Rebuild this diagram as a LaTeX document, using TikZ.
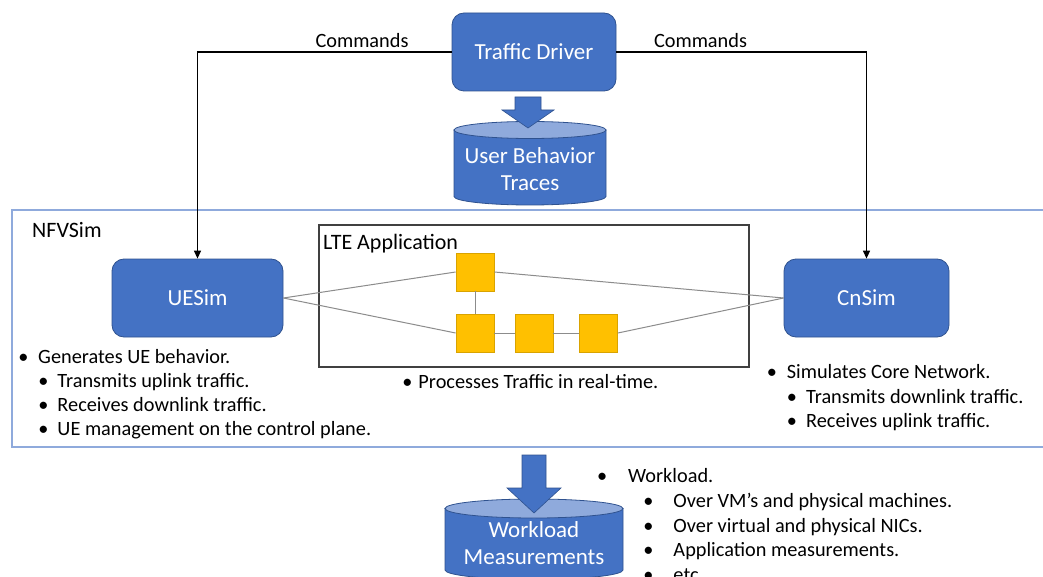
\documentclass[tikz,border=0pt]{standalone}
\usepackage{fontspec}
\setmainfont{Carlito}
\usetikzlibrary{arrows.meta}

\definecolor{boxblue}{HTML}{4472C4}
\definecolor{boxedge}{HTML}{2F528F}
\definecolor{lightblue}{HTML}{8FAADC}
\definecolor{vnfyellow}{HTML}{FFC000}
\definecolor{vnfedge}{HTML}{D9A300}
\definecolor{linkgray}{HTML}{8C8C8C}
\definecolor{framegray}{HTML}{404040}

% bullet centred #1 to the left of the text start
\newcommand{\bpt}[2]{\llap{\makebox[0pt]{\textbullet}\hspace{#1}}#2}

\begin{document}
\begin{tikzpicture}[x=1pt,y=-1pt,
  bluebox/.style={draw=boxedge, line width=0.8pt, fill=boxblue, rounded corners=12pt,
    text=white, inner sep=0pt, font=\fontsize{23}{27}\selectfont},
  vnf/.style={draw=vnfedge, fill=vnfyellow, line width=0.8pt, minimum size=38pt, inner sep=0pt},
  link/.style={draw=linkgray, line width=1pt},
  cmdline/.style={draw=black, line width=1.3pt, -{Triangle[length=8pt,width=7pt]}},
  cmdlabel/.style={anchor=base, inner sep=0pt, font=\fontsize{20.3}{24}\selectfont},
  txt/.style={anchor=base west, inner sep=0pt, font=\fontsize{20.3}{24}\selectfont},
  title/.style={anchor=base west, inner sep=0pt, font=\fontsize{22}{26}\selectfont},
  cyltext/.style={text=white, align=center, inner sep=0pt, font=\fontsize{23}{27}\selectfont},
  cylbody/.style={fill=boxblue, draw=boxedge, line width=0.8pt},
  cyltop/.style={fill=lightblue, draw=boxedge, line width=0.8pt},
  blockarrow/.style={fill=boxblue, draw=boxedge, line width=0.6pt, line join=miter}
]
\useasboundingbox (0,0) rectangle (1043,577);
\fill[white] (0,0) rectangle (1043,577);

% ---------------- NFVSim frame ----------------
\draw[lightblue, line width=1.5pt] (1050,210) -- (12,210) -- (12,447) -- (1050,447);
\node[title] (nfv) at (32,237) {NFVSim};

% ---------------- Traffic driver and traces ----------------
\node[bluebox, minimum width=164pt, minimum height=78pt] (td) at (534,52) {Traffic Driver};

% User behaviour traces (cylinder)
\path[cylbody] (454,130) -- (454,196.5)
  arc[start angle=180, end angle=360, x radius=76pt, y radius=8.5pt] -- (606,130) -- cycle;
\path[cyltop] (530,130) ellipse[x radius=76pt, y radius=8.5pt];
\node[cyltext] (ubt) at (530,169) {User Behavior\\Traces};

\path[blockarrow] (515,97) -- (541,97) -- (541,110) -- (554,110) -- (528,128)
  -- (502,110) -- (515,110) -- cycle;

% ---------------- Simulators ----------------
\node[bluebox, minimum width=171pt, minimum height=78pt] (ue) at (197.5,298) {UESim};
\node[bluebox, minimum width=165pt, minimum height=78pt] (cn) at (866.5,298) {CnSim};

\draw[cmdline] (td.west) -| (ue.north);
\draw[cmdline] (td.east) -| (cn.north);
\node[cmdlabel] (cmdl) at (362,48) {Commands};
\node[cmdlabel] (cmdr) at (700.5,48) {Commands};

% ---------------- LTE application ----------------
\node[draw=framegray, line width=1.2pt, minimum width=430pt, minimum height=142pt, inner sep=0pt]
  (lte) at (534,296) {};
\node[title] (ltel) at (323,250) {LTE Application};

\node[vnf] (v1) at (475,272) {};
\node[vnf] (v2) at (475,333) {};
\node[vnf] (v3) at (534,333) {};
\node[vnf] (v4) at (598.5,333) {};

\draw[link] (ue.east) -- (v1.west);
\draw[link] (ue.east) -- (v2.west);
\draw[link] (v1.east) -- (cn.west);
\draw[link] (v4.east) -- (cn.west);
\draw[link] (v1.south) -- (v2.north);
\draw[link] (v2.east) -- (v3.west);
\draw[link] (v3.east) -- (v4.west);

% ---------------- Descriptions ----------------
\node[txt] (ue0) at (38,363) {\bpt{14.7pt}{Generates UE behavior.}};
\node[txt] (ue1) at (57.3,387) {\bpt{14pt}{Transmits uplink traffic.}};
\node[txt] (ue2) at (57.3,411) {\bpt{14pt}{Receives downlink traffic.}};
\node[txt] (ue3) at (57.3,435) {\bpt{14pt}{UE management on the control plane.}};

\node[txt] (lt0) at (418.3,388) {\bpt{11pt}{Processes Traffic in real-time.}};

\node[txt] (cn0) at (786.7,378) {\bpt{15pt}{Simulates Core Network.}};
\node[txt] (cn1) at (806,403) {\bpt{14.3pt}{Transmits downlink traffic.}};
\node[txt] (cn2) at (806,427) {\bpt{14.3pt}{Receives uplink traffic.}};

% ---------------- Workload measurements ----------------
\path[cylbody] (445,508.5) -- (445,570)
  arc[start angle=180, end angle=360, x radius=89pt, y radius=9.5pt] -- (623,508.5) -- cycle;
\path[cyltop] (534,508.5) ellipse[x radius=89pt, y radius=9.5pt];
\node[cyltext] (wm) at (534,543.5) {Workload\\Measurements};

\path[blockarrow] (522,455) -- (546,455) -- (546,488) -- (561,488) -- (534,513)
  -- (507,488) -- (522,488) -- cycle;

\node[txt] (wl0) at (628,482) {\bpt{26pt}{Workload.}};
\node[txt] (wl1) at (673.3,507) {\bpt{25pt}{Over VM’s and physical machines.}};
\node[txt] (wl2) at (673.3,532) {\bpt{25pt}{Over virtual and physical NICs.}};
\node[txt] (wl3) at (673.3,556) {\bpt{25pt}{Application measurements.}};
\node[txt] (wl4) at (673.3,581) {\bpt{25pt}{etc.}};
\end{tikzpicture}
\end{document}
